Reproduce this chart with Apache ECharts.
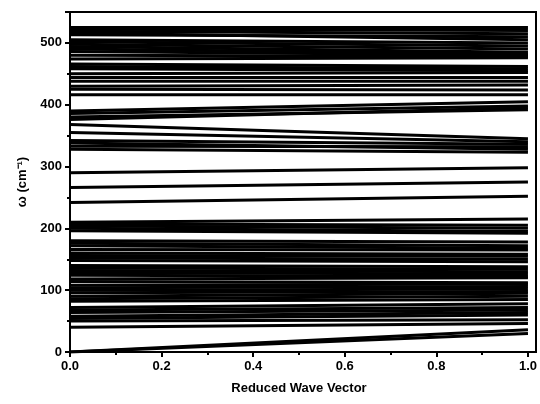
<!DOCTYPE html><html><head><meta charset="utf-8"><script src="https://cdn.jsdelivr.net/npm/echarts@6/dist/echarts.min.js"></script></head><body style="margin:0"><div id="c" style="width:540px;height:404px"></div><script>
const startVals=[525,522,519,516,513,505,502,498,494,490,486,480,474,466,462,458,450,444,438,430,425,416,390,386,380,376,368,355,342,338,333,328,290,266,242,210,207,204,200,196,180,176,172,166,160,156,152,148,140,136,132,128,124,118,114,108,104,100,96,90,86,82,72,68,64,58,54,50,40,0,0];
const endVals=[525,520,515,505,510,500,495,490,485,482,480,478,476,462,458,455,452,444,438,432,424,416,405,398,392,395,345,340,336,328,332,323,298,275,252,215,205,200,195,192,178,172,168,165,158,155,150,146,138,134,130,126,122,120,112,110,106,102,98,95,90,85,78,72,68,64,60,52,46,36,30];
const xTicks=[0,0.2,0.4,0.6,0.8,1.0];
const font='Liberation Sans';
const series=startVals.map((s,i)=>({type:'line',data:[[0,s],[1,endVals[i]]],symbol:'none',lineStyle:{color:'#000',width:3},silent:true}));
const ch=echarts.init(document.getElementById('c'));
ch.setOption({animation:false,grid:{left:70,right:4,top:12,bottom:52},
xAxis:{type:'value',min:0,max:1,interval:0.2,name:'Reduced Wave Vector',nameLocation:'middle',nameGap:30,
nameTextStyle:{fontFamily:font,fontWeight:'bold',fontSize:13,color:'#000'},
axisLine:{lineStyle:{color:'#000',width:2}},axisTick:{lineStyle:{color:'#000',width:2},length:5},minorTick:{show:true,splitNumber:2,length:3,lineStyle:{color:'#000',width:2}},
axisLabel:{fontFamily:font,fontWeight:'bold',fontSize:13,color:'#000',formatter:v=>v.toFixed(1)},splitLine:{show:false}},
yAxis:{type:'value',min:0,max:550,interval:100,name:'ω (cm⁻¹)',nameLocation:'middle',nameGap:40,
nameTextStyle:{fontFamily:font,fontWeight:'bold',fontSize:13,color:'#000'},
axisLine:{lineStyle:{color:'#000',width:2}},axisTick:{lineStyle:{color:'#000',width:2},length:5},minorTick:{show:true,splitNumber:2,length:3,lineStyle:{color:'#000',width:2}},
axisLabel:{fontFamily:font,fontWeight:'bold',fontSize:13,color:'#000',showMaxLabel:false,formatter:v=>v===550?'':String(v)},splitLine:{show:false}},
graphic:[{type:'rect',shape:{x:70,y:12,width:466,height:340},style:{fill:'none',stroke:'#000',lineWidth:2},z:100}],
series});
</script></body></html>
